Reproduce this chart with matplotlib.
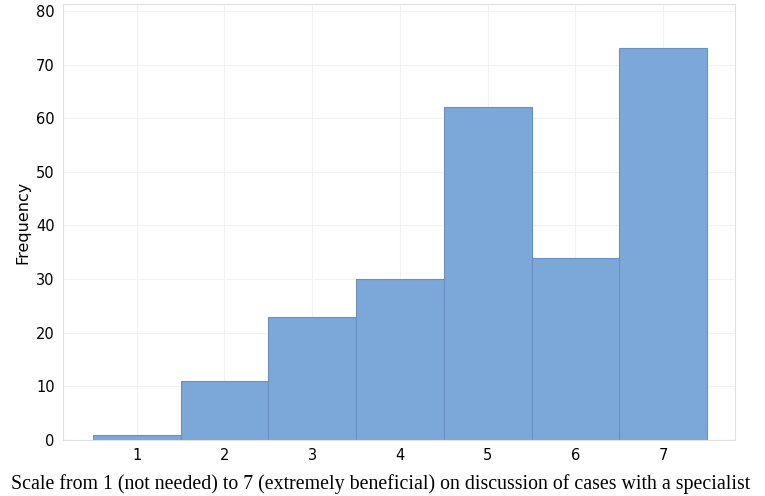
import matplotlib
matplotlib.use("Agg")
import matplotlib.pyplot as plt

scores = [1, 2, 3, 4, 5, 6, 7]
freq = [1, 11, 23, 30, 62, 34, 73]
yticks = [0, 10, 20, 30, 40, 50, 60, 70, 80]

fig = plt.figure(figsize=(7.65, 4.96), dpi=100)
ax = fig.add_axes([0.0824, 0.1129, 0.8786, 0.8791])

ax.bar(scores, freq, width=1.0, color="#7ba7d9", edgecolor="#6a90c0", linewidth=0.8, zorder=2)

ax.set_xlim(0.16, 7.82)
ax.set_ylim(0, 81.3)
ax.set_xticks(scores)
ax.set_yticks(yticks)
ax.grid(True, color="#f2f2f2", linewidth=0.8, zorder=0)
ax.set_axisbelow(True)
for s in ax.spines.values():
    s.set_color("#e0e0e0")
ax.tick_params(length=0, labelsize=10.5, pad=6)

ax.set_ylabel("Frequency", fontsize=11.5)
# x label is centred on the figure, not on the axes
fig.text(0.497, 0.014,
         "Scale from 1 (not needed) to 7 (extremely beneficial) on discussion of cases with a specialist",
         fontsize=14.3, family="Liberation Serif", ha="center", va="baseline")

fig.savefig("out.png", dpi=100)
